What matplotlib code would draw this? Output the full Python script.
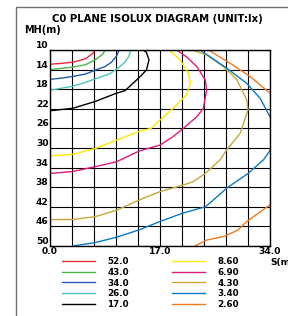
import matplotlib.pyplot as plt
import numpy as np
from matplotlib.patches import Rectangle

# isolux levels (lx) and their colours
levels = ["52.0", "43.0", "34.0", "26.0", "17.0", "8.60", "6.90", "4.30", "3.40", "2.60"]
colors = ["#ee2a3a", "#4cb848", "#1f5bb0", "#4cc4c0", "#000000",
          "#ffe600", "#e0197a", "#c8a838", "#0a7ac8", "#f07a20"]

# contour points: S(m), MH(m)
x52 = [0, 2.0, 3.5, 5.5, 6.6, 7.0]
y52 = [12.9, 12.7, 12.5, 11.8, 10.7, 10.0]
x43 = [0, 3.5, 5.5, 7.0, 8.0, 8.6]
y43 = [14.0, 13.5, 13.0, 12.0, 11.0, 10.0]
x34 = [0, 2, 3.5, 5.5, 7, 8.5, 9.5, 10.3, 10.7]
y34 = [16.0, 15.7, 15.4, 14.9, 14.1, 13.4, 12.5, 11.2, 10.0]
x26 = [0, 3.5, 5.5, 7, 9.3, 10.3, 11.5, 12.1, 12.5]
y26 = [18.2, 17.4, 16.6, 15.9, 14.8, 13.9, 12.6, 11.5, 10.0]
x17 = [0, 3.5, 7, 10.3, 11.6, 13.8, 14.9, 15.3, 14.9, 14.4]
y17 = [22.4, 21.9, 20.5, 18.8, 18.3, 15.6, 14.1, 12.0, 10.5, 10.0]
x86 = [0, 3.5, 7, 10.3, 13.8, 15.6, 17, 19, 21.1, 21.7, 21.4, 20.1, 18.4]
y86 = [31.6, 31.3, 30.1, 28.4, 26.6, 26.0, 24.3, 21.9, 19.2, 16.8, 14.8, 12.0, 10.0]
x69 = [0, 3.5, 7, 10.3, 13.8, 17, 19, 20.6, 22.7, 23.7, 24.2, 24.0, 22.7, 21.1, 19.6]
y69 = [35.2, 34.8, 33.8, 32.8, 30.6, 29.4, 27.7, 26.0, 23.6, 21.9, 18.2, 16.1, 13.4, 11.4, 10.0]
x43b = [0, 3.5, 7, 10.3, 13.8, 17, 20.5, 22.1, 24, 26.3, 27.3, 29.4, 30.6, 30.4, 28.9, 26.8, 24.2, 21.9]
y43b = [44.6, 44.6, 44.0, 42.7, 40.6, 38.9, 37.6, 36.9, 35.2, 32.4, 30.4, 27.0, 22.2, 20.2, 16.1, 13.4, 11.0, 10.0]
x34_top = [23.2, 27.3, 30.4, 32.5, 33.7, 34.0]
y34_top = [10.0, 13.7, 16.8, 19.9, 22.9, 23.6]
x34_bot = [3.5, 7, 10.3, 13.8, 17, 20.5, 24, 25, 27.3, 30.6, 31.8, 33.0, 33.7, 34.0]
y34_bot = [50.0, 49.3, 48.2, 46.7, 45.0, 43.3, 42.0, 40.9, 38.2, 35.2, 33.8, 32.4, 31.1, 30.5]
x26_top = [24.5, 28.3, 30.9, 34.0]
y26_top = [10.0, 13.1, 15.4, 18.8]
x26_bot = [22.4, 24.2, 27.0, 29.1, 30.4, 34.0]
y26_bot = [50.0, 48.8, 48.0, 46.7, 45.0, 41.6]

curves = [[(x52, y52)], [(x43, y43)], [(x34, y34)], [(x26, y26)], [(x17, y17)],
          [(x86, y86)], [(x69, y69)], [(x43b, y43b)],
          [(x34_top, y34_top), (x34_bot, y34_bot)],
          [(x26_top, y26_top), (x26_bot, y26_bot)]]

fig = plt.figure(figsize=(2.88, 3.16), dpi=100)
ax = fig.add_axes([50/288, 1-246/316, 220/288, 196/316])

for lev, col, segs in zip(levels, colors, curves):
    for i, (xs, ys) in enumerate(segs):
        ax.plot(xs, ys, color=col, lw=1.0, label=lev if i == 0 else None)

ax.set_xlim(0, 34)
ax.set_ylim(50, 10)
ax.set_xticks([0, 17, 34])
ax.set_xticklabels(["0.0", "17.0", "34.0"])
ax.set_xticks(np.arange(0, 34.01, 3.4), minor=True)
ax.set_yticks(np.arange(10, 51, 4))
ax.tick_params(length=0, which="both", labelsize=6.6, pad=1)
for t in ax.get_xticklabels() + ax.get_yticklabels():
    t.set_fontweight("bold")
for t in ax.get_yticklabels():
    t.set_va("bottom")
ax.grid(True, which="both", color="black", lw=0.8)
for s in ax.spines.values():
    s.set_linewidth(1.0)

fig.text(157/288, 1-19/316, "C0 PLANE ISOLUX DIAGRAM (UNIT:lx)", ha="center", va="center",
         fontsize=7.3, fontweight="bold")
fig.text(24/288, 1-30/316, "MH(m)", ha="left", va="center", fontsize=7.0, fontweight="bold")
fig.text(270/288, 1-262/316, "S(m)", ha="left", va="center", fontsize=6.6, fontweight="bold")

fig.patches.append(Rectangle((16/288, -0.1), 2, 1 - 7/316 + 0.1, transform=fig.transFigure,
                             fill=False, edgecolor="#707070", lw=1.0))

fig.legend(loc="upper left", bbox_to_anchor=(62/288, 1-257/316), ncol=2, frameon=False,
           prop={"size": 6.3, "weight": "bold"}, handlelength=3.8, handletextpad=1.4,
           columnspacing=4.9, labelspacing=0.2, borderpad=0, borderaxespad=0)

fig.savefig("out.png", dpi=100)
